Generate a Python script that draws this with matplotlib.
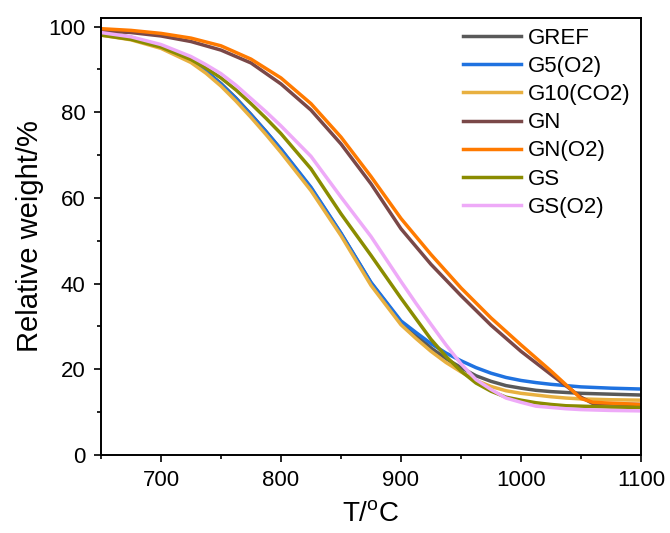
"""TGA curves: relative weight vs temperature."""

import matplotlib
matplotlib.use("Agg")
import matplotlib.pyplot as plt
import matplotlib.ticker as mticker

plt.rcParams["font.family"] = ["Liberation Sans", "DejaVu Sans"]

# ── Data ──────────────────────────────────────────────────────────────────────
T_STD = [650, 675, 700, 725, 737.5, 750, 762.5, 775, 787.5, 800, 825, 850,
         875, 900, 912.5, 925, 937.5, 950, 962.5, 975, 987.5, 1000, 1012.5,
         1025, 1037.5, 1050, 1075, 1100]
T_GN = [650, 675, 700, 725, 750, 775, 800, 825, 850, 875, 900,
        925, 950, 975, 1000, 1025, 1050, 1060, 1075, 1100]

GREF = [98.7, 97.5, 95.3, 92.0, 89.6, 86.7, 83.3, 79.5, 75.5, 71.3, 62.3, 51.7,
        40.2, 31.0, 28.0, 25.0, 22.5, 20.4, 18.5, 17.2, 16.2, 15.6, 15.1,
        14.8, 14.6, 14.4, 14.2, 14.0]
G5_O2 = [98.4, 97.3, 95.2, 92.0, 89.5, 86.6, 83.2, 79.4, 75.5, 71.4, 62.5, 51.8,
         40.3, 31.3, 28.6, 26.0, 23.8, 22.0, 20.4, 19.1, 18.1, 17.4, 16.9,
         16.5, 16.2, 15.9, 15.6, 15.4]
G10_CO2 = [98.0, 96.9, 94.9, 91.6, 89.1, 86.1, 82.6, 78.8, 74.8, 70.6, 61.7, 51.2,
           39.6, 30.4, 27.2, 24.2, 21.6, 19.4, 17.4, 16.0, 15.0, 14.4, 14.0,
           13.6, 13.3, 13.1, 12.9, 12.8]
GN = [99.0, 98.6, 97.8, 96.5, 94.5, 91.5, 86.6, 80.5, 72.6, 63.3, 52.8,
      44.5, 37.2, 30.3, 24.2, 18.8, 13.5, 12.0, 11.9, 11.8]
GN_O2 = [99.5, 99.1, 98.4, 97.3, 95.5, 92.4, 88.0, 82.0, 74.2, 65.0, 55.2,
         46.8, 39.0, 32.0, 25.7, 19.6, 13.2, 12.3, 12.1, 11.8]
GS = [98.0, 97.0, 95.2, 92.3, 90.3, 88.0, 85.2, 82.0, 78.6, 75.0, 66.8, 56.3,
      46.6, 36.6, 31.8, 27.0, 23.0, 19.6, 16.8, 14.9, 13.5, 12.8, 12.2,
      11.8, 11.5, 11.4, 11.2, 11.1]
GS_O2 = [98.6, 97.6, 95.8, 93.0, 91.1, 89.0, 86.3, 83.2, 80.1, 76.8, 69.7, 60.2,
         51.0, 40.5, 35.4, 30.5, 25.7, 21.3, 17.6, 15.3, 13.3, 12.3, 11.4,
         11.1, 10.8, 10.6, 10.4, 10.3]

SERIES = [
    ("GREF",     T_STD, GREF,    "#595959"),
    ("G5(O2)",   T_STD, G5_O2,   "#1f72e0"),
    ("G10(CO2)", T_STD, G10_CO2, "#e8b040"),
    ("GN",       T_GN,  GN,      "#7a4848"),
    ("GN(O2)",   T_GN,  GN_O2,   "#ff7a00"),
    ("GS",       T_STD, GS,      "#8a8c00"),
    ("GS(O2)",   T_STD, GS_O2,   "#eeaaf8"),
]

fig = plt.figure(figsize=(6.7, 5.33), dpi=100)
ax = fig.add_axes([0.1507, 0.1463, 0.806, 0.82])

for name, t, w, c in SERIES:
    ax.plot(t, w, color=c, lw=2.5, label=name, solid_joinstyle="round")

ax.set_xlim(650, 1100)
ax.set_ylim(0, 102)
ax.xaxis.set_major_locator(mticker.MultipleLocator(100))
ax.xaxis.set_minor_locator(mticker.MultipleLocator(50))
ax.yaxis.set_major_locator(mticker.MultipleLocator(20))
ax.yaxis.set_minor_locator(mticker.MultipleLocator(10))
ax.tick_params(which="both", direction="out", top=False, right=False,
               width=1.2, labelsize=16, pad=6)
ax.tick_params(which="major", length=5)
ax.tick_params(which="minor", length=3)
for s in ax.spines.values():
    s.set_linewidth(1.4)

ax.set_xlabel("T/$\\mathregular{^o}$C", fontsize=20, labelpad=7)
ax.set_ylabel("Relative weight/%", fontsize=21, labelpad=3)

ax.legend(loc="upper right", frameon=False, fontsize=16, handlelength=2.6,
          handletextpad=0.35, labelspacing=0.32, borderaxespad=0.05)

fig.savefig("out.png", dpi=100)
